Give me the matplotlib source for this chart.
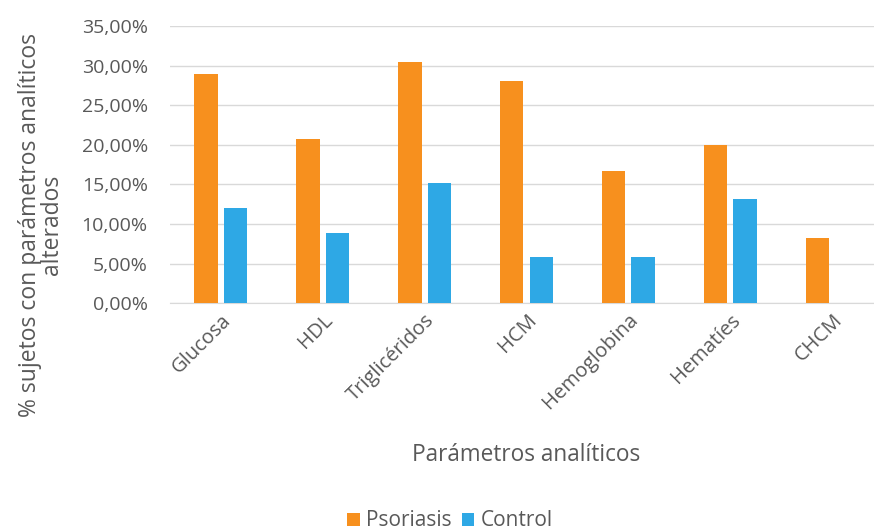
import matplotlib
matplotlib.use("Agg")
import matplotlib.pyplot as plt
import numpy as np
from matplotlib.ticker import FuncFormatter

categories = ["Glucosa", "HDL", "Triglicéridos", "HCM", "Hemoglobina", "Hematíes", "CHCM"]
psoriasis = [28.9, 20.7, 30.5, 28.0, 16.7, 20.0, 8.2]
control = [12.0, 8.9, 15.2, 5.9, 5.9, 13.2, 0.0]
y_ticks = [0, 5, 10, 15, 20, 25, 30, 35]

ORANGE = "#F7901E"
BLUE = "#2EA8E5"
GREY = "#595959"

plt.rcParams["font.family"] = ["Open Sans", "DejaVu Sans"]

fig = plt.figure(figsize=(8.74, 5.32), dpi=100)
ax = fig.add_axes([170 / 874, 1 - 303.3 / 532, 713 / 874, (303.3 - 26) / 532])

x = np.arange(len(categories))
w = 0.23
off = 0.145
ax.bar(x - off, psoriasis, w, color=ORANGE, label="Psoriasis", zorder=3)
ax.bar(x + off, control, w, color=BLUE, label="Control", zorder=3)

ax.set_xlim(-0.5, len(categories) - 0.5)
ax.set_ylim(0, 35)
ax.set_yticks(y_ticks)
ax.yaxis.set_major_formatter(FuncFormatter(lambda v, p: f"{v:.2f}%".replace(".", ",")))
ax.grid(axis="y", color="#D9D9D9", linewidth=1, zorder=0)
for s in ["top", "right", "left"]:
    ax.spines[s].set_visible(False)
ax.spines["bottom"].set_color("#D9D9D9")
ax.tick_params(axis="y", length=0, labelsize=14, labelcolor=GREY, pad=16)
ax.tick_params(axis="x", length=0, labelsize=14.5, labelcolor=GREY, pad=5)
ax.set_xticks(x)
ax.set_xticklabels(categories, rotation=45, ha="right", rotation_mode="anchor")

fig.text(526 / 874, 1 - 455 / 532, "Parámetros analíticos", ha="center", va="center",
         fontsize=16.3, color=GREY)
fig.text(41 / 874, 1 - 225 / 532, "% sujetos con parámetros analíticos\nalterados",
         ha="center", va="center", rotation=90, fontsize=16.5, color=GREY, linespacing=0.9)

handles, labels = ax.get_legend_handles_labels()
fig.legend(handles, labels, loc="center", bbox_to_anchor=(450 / 874, 1 - 521 / 532), ncol=2,
           frameon=False, fontsize=15, handlelength=0.6, handleheight=0.6,
           handletextpad=0.3, columnspacing=0.5, labelcolor=GREY)

fig.savefig("out.png", dpi=100)
